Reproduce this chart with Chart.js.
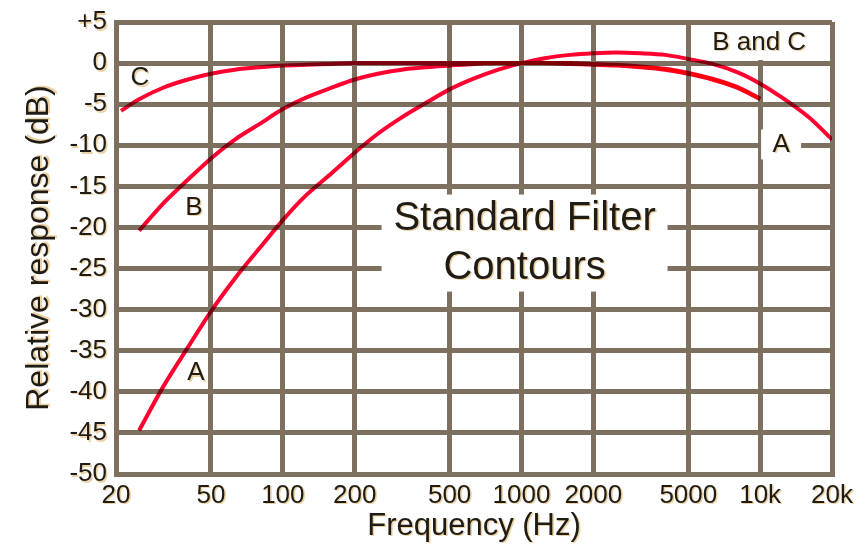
<!DOCTYPE html>
<html>
<head>
<meta charset="utf-8">
<script src="https://cdn.jsdelivr.net/npm/chart.js@4/dist/chart.umd.min.js"></script>
<style>
  html, body { margin: 0; padding: 0; background: #fff; }
  #wrap { width: 866px; height: 548px; }
</style>
</head>
<body>
<div id="wrap"><canvas id="mycanvas" width="866" height="548"></canvas></div>
<script>
// frequencies (Hz) and responses (dB)
var freqA = [25, 31.5, 40, 50, 63, 80, 100, 125, 160, 200, 250, 315, 400, 500, 630, 800, 1000, 1250, 1600, 2000, 2500, 3150, 4000, 5000, 6300, 8000, 10000, 12500, 16000, 20000];
var respA = [-44.7, -39.4, -34.6, -30.2, -26.2, -22.5, -19.1, -16.1, -13.4, -10.9, -8.6, -6.6, -4.8, -3.2, -1.9, -0.8, 0, 0.6, 1.0, 1.2, 1.3, 1.2, 1.0, 0.5, -0.1, -1.1, -2.5, -4.3, -6.6, -9.3];

var freqB = [25, 31.5, 40, 50, 63, 80, 100, 125, 160, 200, 250, 315, 400, 500, 630, 800, 1000, 1250, 1600, 2000, 2500, 3150, 4000, 5000, 6300, 8000, 10000];
var respB = [-20.4, -17.1, -14.2, -11.6, -9.3, -7.4, -5.6, -4.2, -3.0, -2.0, -1.3, -0.8, -0.5, -0.3, -0.1, 0, 0, 0, 0, -0.1, -0.2, -0.4, -0.7, -1.2, -1.9, -2.9, -4.3];

var freqC = [21, 25, 31.5, 40, 50, 63, 80, 100, 125, 160, 200, 250, 315, 400, 500, 630, 800, 1000, 1250, 1600, 2000, 2500, 3150, 4000, 5000, 6300, 8000, 10000];
var respC = [-5.8, -4.4, -3.0, -2.0, -1.3, -0.8, -0.5, -0.3, -0.2, -0.1, 0, 0, 0, 0, 0, 0, 0, 0, 0, -0.1, -0.2, -0.3, -0.5, -0.8, -1.3, -2.0, -3.0, -4.4];

var xTicks = [20, 50, 100, 200, 500, 1000, 2000, 5000, 10000, 20000];
var xTickLabels = ["20", "50", "100", "200", "500", "1000", "2000", "5000", "10k", "20k"];

// text labels on the plot: anchor in (Hz, dB)
var notes = [
	{ text: ["C"], x: 25.2, y: -1.8, size: 26 },
	{ text: ["B"], x: 42.4, y: -17.6, size: 26 },
	{ text: ["A"], x: 43.2, y: -37.7, size: 26 },
	{ text: ["A"], x: 12240, y: -9.9, size: 26, box: [40, 30] },
	{ text: ["B and C"], x: 9900, y: 2.5, size: 26, box: [126, 35] },
	{ text: ["Standard Filter", "Contours"], x: 1030, y: -21.9, size: 40, box: [286, 97] }
];

function toPoints(fs, vs) {
	var pts = [];
	for (var i in fs) {
		pts.push({ x: fs[i], y: vs[i] });
	}
	return pts;
}

var inkColor = "#1f1b15";
var gridColor = "#7d705e";
var curveColor = "#ff0030";
var fontFamily = "'Liberation Sans', Arial, sans-serif";

var ctx = document.getElementById("mycanvas");

// the old picture has a beige halo under every piece of text
var c2d = ctx.getContext("2d");
var plainFillText = c2d.fillText;
c2d.fillText = function(t, x, y, m) {
	var keep = this.fillStyle;
	this.fillStyle = "#ecd2a4";
	plainFillText.call(this, t, x + 1.5, y + 1.5);
	this.fillStyle = keep;
	plainFillText.call(this, t, x, y);
};

var notesPlugin = {
	id: "notes",
	beforeDatasetsDraw: function(chart) {
		var c = chart.ctx;
		var xs = chart.scales.x, ys = chart.scales.y;
		c.save();
		c.fillStyle = "#ffffff";
		notes.forEach(function(n) {
			if (!n.box) return;
			var px = xs.getPixelForValue(n.x), py = ys.getPixelForValue(n.y);
			c.fillRect(px - n.box[0] / 2, py - n.box[1] / 2, n.box[0], n.box[1]);
		});
		c.restore();
		c.save();
		c.globalCompositeOperation = "multiply";
	},
	afterDatasetsDraw: function(chart) {
		var c = chart.ctx;
		c.restore();
		var xs = chart.scales.x, ys = chart.scales.y;
		c.save();
		c.fillStyle = inkColor;
		c.textAlign = "center";
		c.textBaseline = "middle";
		notes.forEach(function(n) {
			var px = xs.getPixelForValue(n.x), py = ys.getPixelForValue(n.y);
			c.font = n.size + "px " + fontFamily;
			var lh = n.size * 1.22;
			var y0 = py - (n.text.length - 1) * lh / 2;
			n.text.forEach(function(t, k) {
				c.fillText(t, px, y0 + k * lh);
			});
		});
		c.restore();
	}
};

var chartdata = {
	datasets: [
		{
			label: "C",
			data: toPoints(freqC, respC),
			borderColor: curveColor,
			borderWidth: 4,
			pointRadius: 0,
			tension: 0.3,
			fill: false
		},
		{
			label: "B",
			data: toPoints(freqB, respB),
			borderColor: curveColor,
			borderWidth: 4,
			pointRadius: 0,
			tension: 0.3,
			fill: false
		},
		{
			label: "A",
			data: toPoints(freqA, respA),
			borderColor: curveColor,
			borderWidth: 4,
			pointRadius: 0,
			tension: 0.3,
			fill: false
		}
	]
};

var LineGraph = new Chart(ctx, {
	type: "line",
	data: chartdata,
	plugins: [notesPlugin],
	options: {
		responsive: false,
		animation: false,
		events: [],
		layout: { padding: { left: 0, right: 34, top: 12, bottom: 0 } },
		plugins: { legend: { display: false }, tooltip: { enabled: false } },
		scales: {
			x: {
				type: "logarithmic",
				min: 20,
				max: 20000,
				afterBuildTicks: function(scale) {
					scale.ticks = xTicks.map(function(v) { return { value: v }; });
				},
				afterFit: function(scale) { scale.height = 74; },
				ticks: {
					autoSkip: false,
					maxRotation: 0,
					padding: 6,
					color: inkColor,
					font: { family: fontFamily, size: 26 },
					callback: function(v, i) { return xTickLabels[i]; }
				},
				grid: { color: gridColor, lineWidth: 5, drawTicks: false },
				border: { color: gridColor, width: 5 },
				title: {
					display: true,
					text: "Frequency (Hz)",
					color: inkColor,
					font: { family: fontFamily, size: 31 },
					padding: { top: 0, bottom: 3 }
				}
			},
			y: {
				min: -50,
				max: 5,
				afterFit: function(scale) { scale.width = 116; },
				ticks: {
					stepSize: 5,
					padding: 9,
					color: inkColor,
					font: { family: fontFamily, size: 26, lineHeight: 1 },
					callback: function(v) { return v > 0 ? "+" + v : "" + v; }
				},
				grid: { color: gridColor, lineWidth: 5, drawTicks: false },
				border: { color: gridColor, width: 5 },
				title: {
					display: true,
					text: "Relative response (dB)",
					color: inkColor,
					font: { family: fontFamily, size: 32 },
					padding: { top: 20, bottom: 0 }
				}
			}
		}
	}
});
</script>
</body>
</html>
